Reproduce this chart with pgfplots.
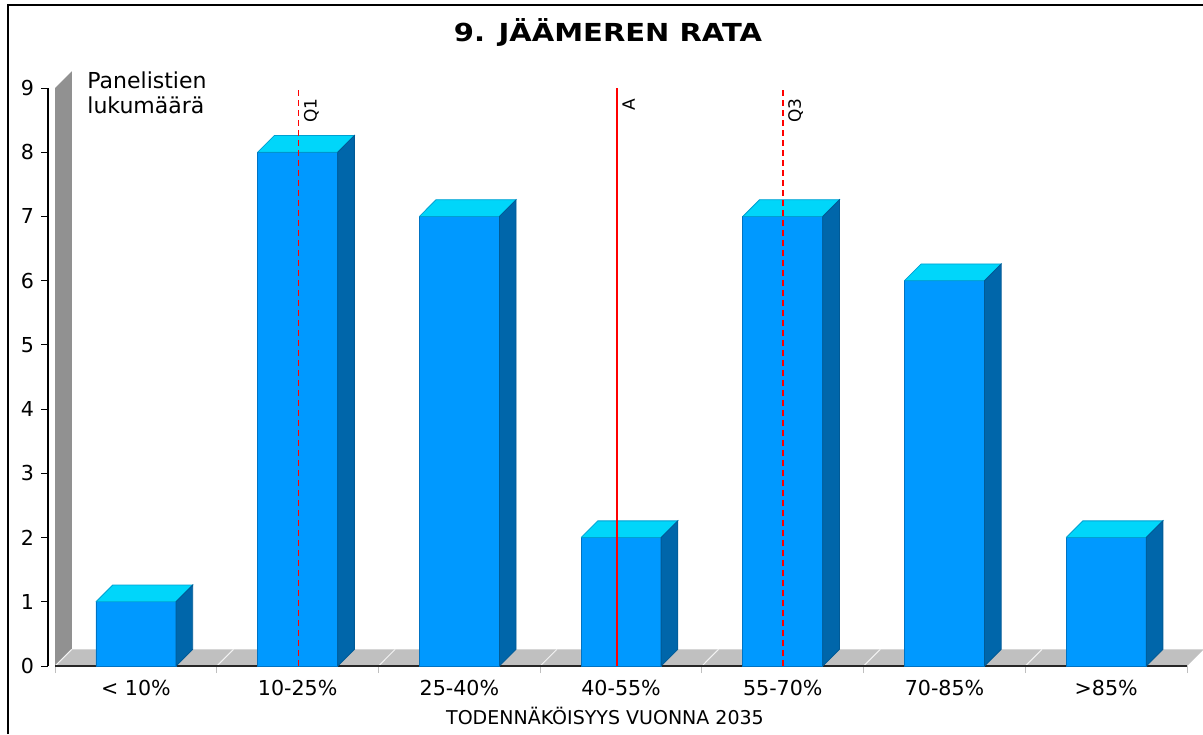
\documentclass[border=0pt]{standalone}
\usepackage{fontspec}
\setmainfont{DejaVu Sans}
\usepackage{pgfplots}
\usepackage{pgfplotstable}
\pgfplotsset{compat=1.18}
\definecolor{frontblue}{RGB}{0,153,255}
\definecolor{topcyan}{RGB}{0,214,250}
\definecolor{sideblue}{RGB}{0,102,170}
\definecolor{edgeblue}{RGB}{0,115,195}
\definecolor{topedge}{RGB}{0,160,210}
\definecolor{sideedge}{RGB}{0,90,150}
\definecolor{wallgray}{RGB}{145,145,145}
\definecolor{floorgray}{RGB}{192,192,192}
\definecolor{linered}{RGB}{255,0,0}

\pgfplotstableread{
x y
0 1
1 8
2 7
3 2
4 7
5 6
6 2
}\datatable

\begin{document}
\begin{tikzpicture}
\useasboundingbox (0,0) rectangle (601.5pt,367pt);
\draw[line width=1pt] (4pt,0) -- (4pt,364.5pt) -- (601.5pt,364.5pt);
\node[font=\bfseries\fontsize{12.4}{14}\selectfont, xscale=1.17] at (304pt,351pt) {9. JÄÄMEREN RATA};
\node[font=\fontsize{9.5}{11}\selectfont] at (302.5pt,9pt) {TODENNÄKÖISYYS VUONNA 2035};
\begin{axis}[
  at={(24pt,34pt)}, anchor=south west,
  x=80.85pt, y=32.11pt,
  xmin=-0.5442, xmax=6.6, ymin=0, ymax=9,
  clip=false,
  axis x line*=bottom, axis y line*=left,
  x axis line style={draw=none},
  y axis line style={black, line width=0.6pt},
  tick align=outside,
  major tick length=3.5pt, minor tick length=3.5pt,
  xtick={0,...,6},
  xticklabels={{< 10\%},{10-25\%},{25-40\%},{40-55\%},{55-70\%},{70-85\%},{>85\%}},
  major x tick style={draw=none},
  minor xtick={-0.5,0.5,...,6.5},
  minor x tick style={gray!50, line width=0.5pt},
  ytick={0,...,9},
  y tick style={black, line width=0.5pt},
  /pgf/number format/assume math mode=true,
  tick label style={font=\fontsize{10.3}{12}\selectfont},
]
% floor and wall
\addplot[fill=floorgray, draw=none, mark=none] coordinates {(-0.5,0) (6.5,0) (6.603,0.26) (-0.397,0.26) (-0.5,0)};
\addplot[fill=wallgray, draw=none, mark=none] coordinates {(-0.5,0) (-0.5,9) (-0.397,9.26) (-0.397,0.26) (-0.5,0)};
\pgfplotsinvokeforeach{-0.5,0.5,1.5,2.5,3.5,4.5,5.5}{
  \pgfmathsetmacro\xa{#1+0.103}
  \edef\temp{\noexpand\addplot[white!80!floorgray, line width=0.5pt, mark=none] coordinates {(#1,0) (\xa,0.26)};}
  \temp
}
\addplot[black!85, line width=0.7pt, mark=none] coordinates {(-0.5,0) (6.5,0)};
% bars
\addplot[ybar, bar width=0.495, fill=frontblue, draw=edgeblue, line width=0.4pt] table[x=x,y=y]{\datatable};
\pgfplotsinvokeforeach{0,...,6}{
  \pgfplotstablegetelem{#1}{y}\of\datatable
  \let\barval\pgfplotsretval
  \pgfmathsetmacro\xl{#1-0.2475}
  \pgfmathsetmacro\xr{#1+0.2475}
  \pgfmathsetmacro\xlb{#1-0.2475+0.103}
  \pgfmathsetmacro\xrb{#1+0.2475+0.103}
  \pgfmathsetmacro\yt{\barval+0.26}
  \edef\temp{\noexpand\addplot[fill=topcyan, draw=topedge, line width=0.4pt, mark=none] coordinates {(\xl,\barval) (\xr,\barval) (\xrb,\yt) (\xlb,\yt) (\xl,\barval)};
  \noexpand\addplot[fill=sideblue, draw=sideedge, line width=0.4pt, mark=none] coordinates {(\xr,0) (\xr,\barval) (\xrb,\yt) (\xrb,0.26) (\xr,0)};}
  \temp
}
% marker lines
\addplot[draw=linered, line width=0.75pt, mark=none] coordinates {(2.975,0) (2.975,9)};
\addplot[draw=linered, line width=0.75pt, dash pattern=on 3pt off 2pt, mark=none] coordinates {(4.0,0) (4.0,9)};
\addplot[draw=linered, line width=0.75pt, dash pattern=on 3pt off 2pt, mark=none] coordinates {(1.006,0) (1.006,9)};
\node[rotate=90, anchor=north east, inner sep=0pt, font=\fontsize{8.5}{9}\selectfont] at ([xshift=2.5pt]axis cs:1.006,8.84) {Q1};
\node[rotate=90, anchor=north east, inner sep=0pt, font=\fontsize{8.5}{9}\selectfont] at ([xshift=2.5pt]axis cs:2.975,8.84) {A};
\node[rotate=90, anchor=north east, inner sep=0pt, font=\fontsize{8.5}{9}\selectfont] at ([xshift=2.5pt]axis cs:4,8.84) {Q3};
\node[anchor=north west, align=left, inner sep=0pt, font=\fontsize{11}{12.5}\selectfont] at (axis cs:-0.303,9.265) {Panelistien\\lukumäärä};
\end{axis}
\end{tikzpicture}
\end{document}
